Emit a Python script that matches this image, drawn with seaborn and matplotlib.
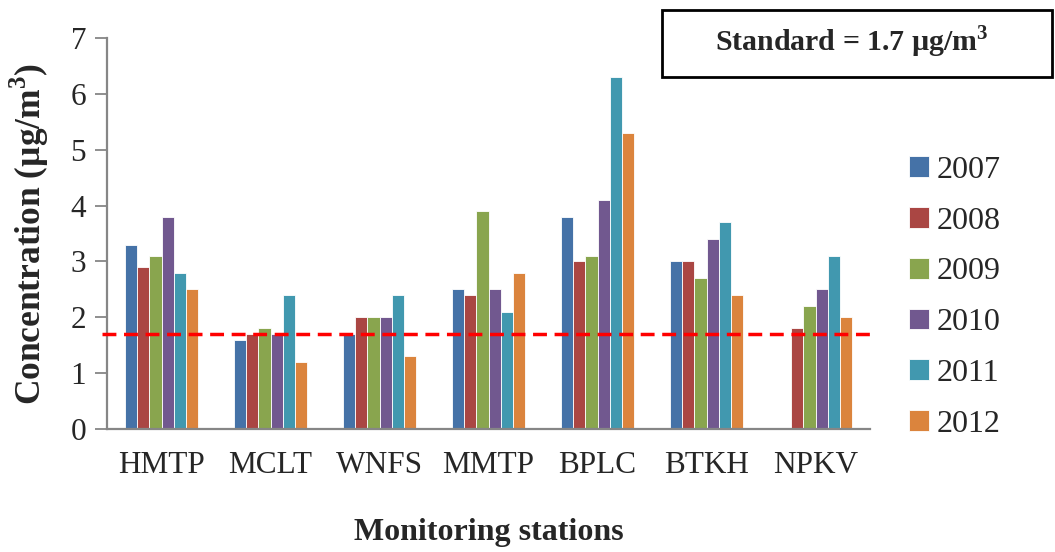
import numpy as np
import pandas as pd
import matplotlib
matplotlib.use("Agg")
import matplotlib.pyplot as plt
import seaborn as sns
from matplotlib.patches import Rectangle

stations = ["HMTP", "MCLT", "WNFS", "MMTP", "BPLC", "BTKH", "NPKV"]
years = ["2007", "2008", "2009", "2010", "2011", "2012"]
v2007 = [3.3, 1.6, 1.7, 2.5, 3.8, 3.0, np.nan]
v2008 = [2.9, 1.7, 2.0, 2.4, 3.0, 3.0, 1.8]
v2009 = [3.1, 1.8, 2.0, 3.9, 3.1, 2.7, 2.2]
v2010 = [3.8, 1.7, 2.0, 2.5, 4.1, 3.4, 2.5]
v2011 = [2.8, 2.4, 2.4, 2.1, 6.3, 3.7, 3.1]
v2012 = [2.5, 1.2, 1.3, 2.8, 5.3, 2.4, 2.0]
standard = 1.7
colors = ["#4572A7", "#AA4643", "#89A54E", "#71588F", "#4198AF", "#DB843D"]

series = [v2007, v2008, v2009, v2010, v2011, v2012]
rows = []
for y, vals in zip(years, series):
    for s, v in zip(stations, vals):
        rows.append({"station": s, "year": y, "value": v})
df = pd.DataFrame(rows)

sns.set_style("white")
plt.rcParams["font.family"] = ["Liberation Serif", "DejaVu Serif"]
plt.rcParams["mathtext.fontset"] = "custom"
plt.rcParams["mathtext.rm"] = "Liberation Serif"
plt.rcParams["mathtext.bf"] = "Liberation Serif:bold"

W, H = 1055, 552
fig = plt.figure(figsize=(W / 100, H / 100), dpi=100)
ax = fig.add_axes([107 / W, 1 - 429 / H, (870 - 107) / W, (429 - 38) / H])

sns.barplot(data=df, x="station", y="value", hue="year", palette=colors,
            width=0.67, saturation=1, edgecolor="white", linewidth=0.6,
            ax=ax, legend=True)

ax.set_xlim(-0.5, 6.5)
ax.set_ylim(0, 7)
ax.set_yticks(range(0, 8))
ax.axhline(standard, xmin=-0.006, xmax=1.0, color="#FF0000", linestyle=(0, (4, 2.2)),
           linewidth=2.5, clip_on=False, zorder=5)

for side in ["top", "right"]:
    ax.spines[side].set_visible(False)
for side in ["left", "bottom"]:
    ax.spines[side].set_color("#868686")
    ax.spines[side].set_linewidth(1.6)
ax.tick_params(axis="y", which="both", left=True, length=9, width=1.3, color="#868686",
               labelsize=22.5, pad=6, direction="out")
ax.tick_params(axis="x", bottom=False, labelsize=22.5, pad=12)

ax.set_xlabel("Monitoring stations", fontsize=23, fontweight="bold", labelpad=28)
ax.set_ylabel(r"Concentration (µg/m$^{\mathbf{3}}$)", fontsize=25.5, fontweight="bold", labelpad=14)

handles, labels = ax.get_legend_handles_labels()
ax.legend(handles, labels, loc="upper left", bbox_to_anchor=(909 / W, 1 - 156 / H),
          bbox_transform=fig.transFigure, frameon=False, fontsize=23,
          handlelength=0.62, handleheight=0.62, handletextpad=0.25, labelspacing=0.68,
          borderaxespad=0, borderpad=0)

fig.patches.append(Rectangle((662 / W, 1 - 77 / H), (1052 - 662) / W, (77 - 10) / H,
                             transform=fig.transFigure, fill=False, edgecolor="black",
                             linewidth=2))
fig.text(852 / W, 1 - 42 / H, r"Standard = 1.7 µg/m$^{\mathbf{3}}$", fontsize=21.5,
         fontweight="bold", ha="center", va="center")

fig.savefig("out.png", dpi=100)
